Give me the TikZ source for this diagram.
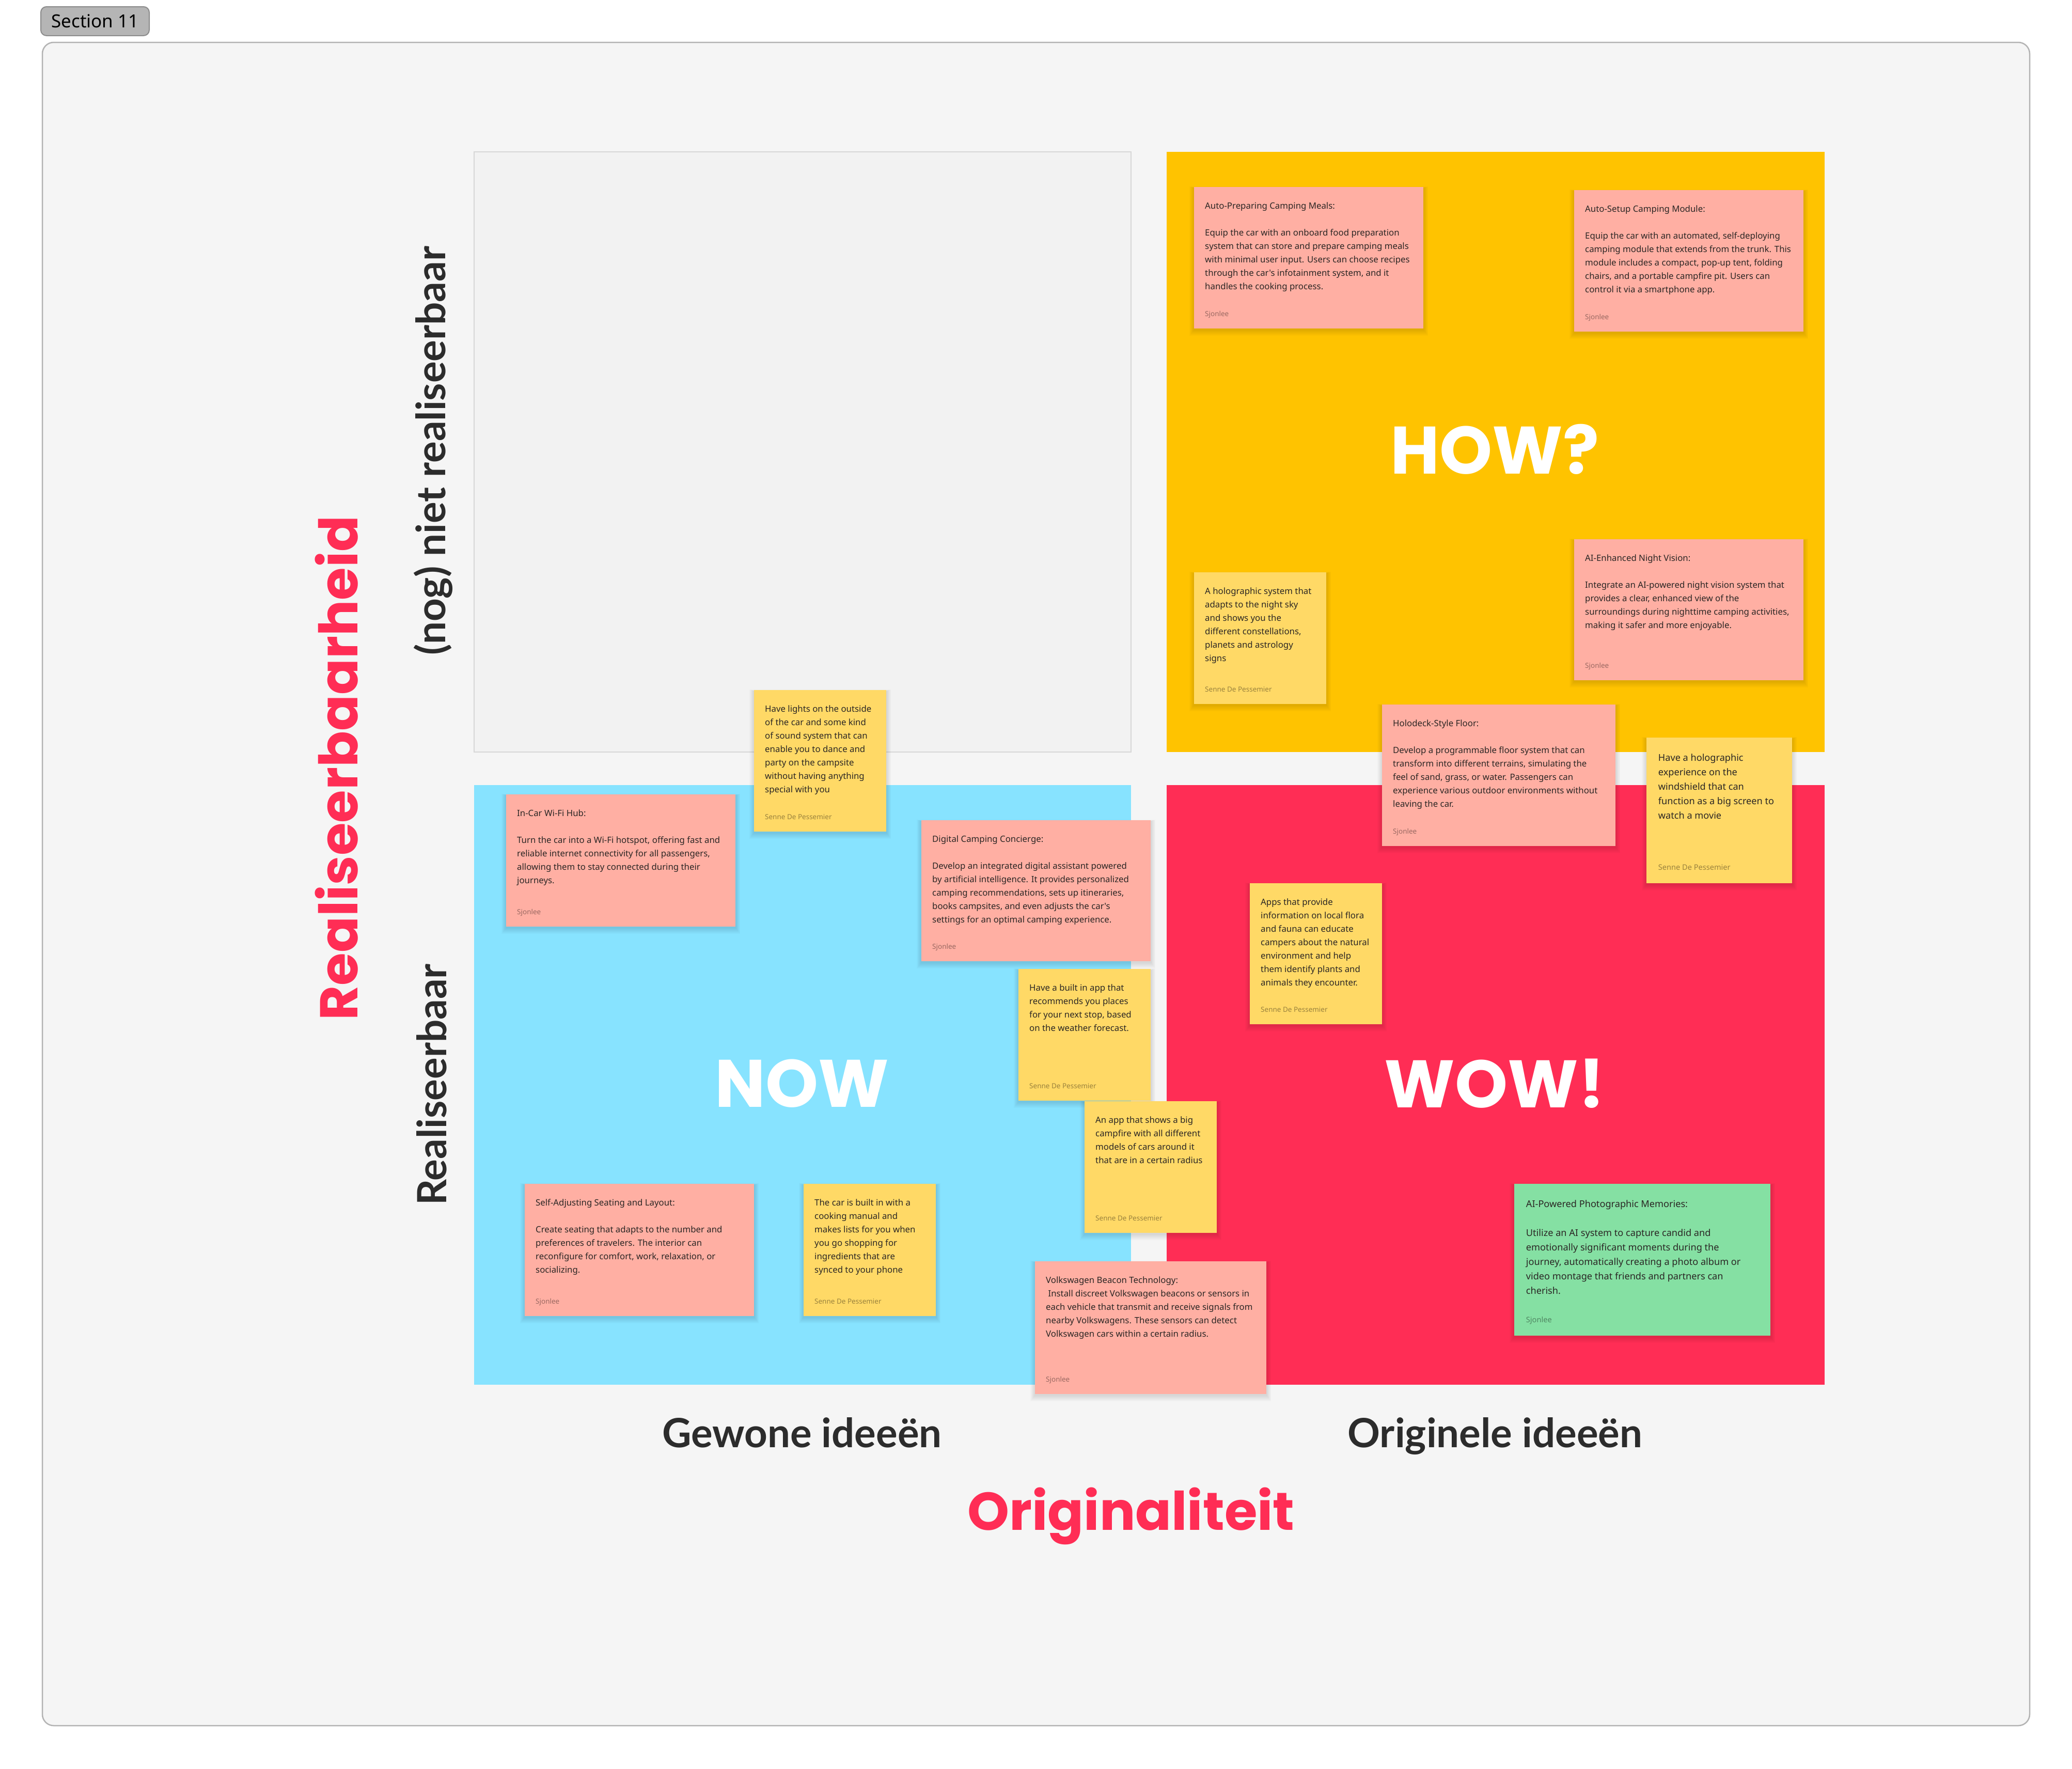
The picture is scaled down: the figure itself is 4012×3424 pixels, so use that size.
\documentclass[tikz,border=0pt]{standalone}
\usepackage{fontspec}
\setmainfont{Noto Sans}
\newfontfamily\popfont{Poppins}
\newfontfamily\axisfont{Lato}
\newfontfamily\notefont{Noto Sans}

\definecolor{sectionbg}{HTML}{F5F5F5}
\definecolor{sectionline}{HTML}{B3B3B3}
\definecolor{pillgray}{HTML}{B5B5B5}
\definecolor{pillline}{HTML}{8C8C8C}
\definecolor{quadgray}{HTML}{F2F2F2}
\definecolor{quadline}{HTML}{D6D6D6}
\definecolor{howyellow}{HTML}{FFC300}
\definecolor{wowred}{HTML}{FF2D55}
\definecolor{nowblue}{HTML}{87E3FF}
\definecolor{salmon}{HTML}{FFAFA3}
\definecolor{stickyyellow}{HTML}{FFD966}
\definecolor{stickygreen}{HTML}{85E0A3}
\definecolor{labeldark}{HTML}{2C2C2C}
\definecolor{accentred}{HTML}{FF2D55}
\definecolor{notetext}{HTML}{2A2624}

% sticky note: #1 name, #2 x, #3 y, #4 width, #5 height, #6 colour, #7 scale, #8 lines, #9 author
\newcommand\sticky[9]{%
  \pgfmathsetmacro\nfs{16.8*#7}%
  \pgfmathsetmacro\nbs{26*#7}%
  \pgfmathsetmacro\afs{13.5*#7}%
  \foreach \k in {1,...,6}{%
    \fill[black, opacity=0.018]
      (#2-\k*1.5, #3+2-\k*0.5) rectangle (#2+#4+\k*1.5, #3+#5+2+\k*2);
  }%
  \node[note, fill=#6, minimum width=#4pt, minimum height=#5pt] (#1) at (#2,#3) {};
  \node[notebody] (#1-text) at ([shift={(21*#7,42*#7)}]#1.north west)
    {\fontsize{\nfs pt}{\nbs pt}\selectfont\begin{tabular}[t]{@{}l@{}}#8\end{tabular}};
  \node[noteauthor] (#1-author) at ([shift={(21*#7,-24*#7)}]#1.south west)
    {\fontsize{\afs pt}{\afs pt}\selectfont #9};
}

\begin{document}
\begin{tikzpicture}[x=1pt,y=-1pt,
  quad/.style={anchor=north west, inner sep=0, outer sep=0},
  note/.style={anchor=north west, inner sep=0, outer sep=0, draw=none},
  notebody/.style={anchor=base west, inner sep=0, text=notetext, font=\notefont},
  noteauthor/.style={anchor=base west, inner sep=0, text=black, text opacity=0.4, font=\notefont},
  bigword/.style={text=white, font={\popfont\bfseries\fontsize{130}{130}\selectfont}, inner sep=0},
  axisword/.style={text=accentred, font={\popfont\bfseries\fontsize{103}{103}\selectfont}, inner sep=0, anchor=base},
  tickword/.style={text=labeldark, font={\axisfont\bfseries\fontsize{78}{78}\selectfont}, inner sep=0, anchor=base},
]
\useasboundingbox (0,0) rectangle (4012,3424);
\fill[white] (0,0) rectangle (4012,3424);

% section frame and its label
\draw[fill=sectionbg, draw=sectionline, line width=2.5pt, rounded corners=22pt]
  (82,82) rectangle (3930,3341);
\node[fill=pillgray, draw=pillline, line width=2pt, rounded corners=11pt,
      minimum width=210pt, minimum height=56pt, inner sep=0, text=black,
      font={\notefont\fontsize{35}{35}\selectfont}] (sectionLabel) at (184,41) {Section 11};

% the four quadrants
\node[quad, fill=quadgray, draw=quadline, line width=2pt, minimum width=1272pt, minimum height=1162pt] (qLater) at (918,294) {};
\node[quad, fill=howyellow, minimum width=1274pt, minimum height=1162pt] (qHow) at (2259,294) {};
\node[quad, fill=nowblue, minimum width=1272pt, minimum height=1161pt] (qNow) at (918,1520) {};
\node[quad, fill=wowred, minimum width=1274pt, minimum height=1161pt] (qWow) at (2259,1520) {};

\node[bigword] (howWord) at (2894,870) {HOW?};
\node[bigword] (nowWord) at (1553,2098) {NOW};
\node[bigword] (wowWord) at (2894,2098) {WOW!};

% axis captions
\node[tickword] (ordinary) at (1553,2802) {Gewone ideeën};
\node[tickword] (original) at (2895,2802) {Originele ideeën};
\node[axisword] (originality) at (2190,2962) {Originaliteit};
\node[axisword, rotate=90] (feasibility) at (692,1487) {Realiseerbaarheid};
\node[tickword, rotate=90] (notYet) at (862,873) {(nog) niet realiseerbaar};
\node[tickword, rotate=90] (feasible) at (864,2100) {Realiseerbaar};

% sticky notes
\sticky{autoMeals}{2312}{362}{444}{274}{salmon}{1}{Auto-Preparing Camping Meals:\\ \\
Equip the car with an onboard food preparation\\
system that can store and prepare camping meals\\
with minimal user input. Users can choose recipes\\
through the car's infotainment system, and it\\
handles the cooking process.}{Sjonlee}

\sticky{autoSetup}{3048}{368}{444}{274}{salmon}{1}{Auto-Setup Camping Module:\\ \\
Equip the car with an automated, self-deploying\\
camping module that extends from the trunk. This\\
module includes a compact, pop-up tent, folding\\
chairs, and a portable campfire pit. Users can\\
control it via a smartphone app.}{Sjonlee}

\sticky{holoSky}{2312}{1108}{256}{255}{stickyyellow}{1}{A holographic system that\\
adapts to the night sky\\
and shows you the\\
different constellations,\\
planets and astrology\\
signs}{Senne De Pessemier}

\sticky{nightVision}{3048}{1044}{444}{273}{salmon}{1}{AI-Enhanced Night Vision:\\ \\
Integrate an AI-powered night vision system that\\
provides a clear, enhanced view of the\\
surroundings during nighttime camping activities,\\
making it safer and more enjoyable.}{Sjonlee}

\sticky{partyLights}{1460}{1336}{256}{274}{stickyyellow}{1}{Have lights on the outside\\
of the car and some kind\\
of sound system that can\\
enable you to dance and\\
party on the campsite\\
without having anything\\
special with you}{Senne De Pessemier}

\sticky{holodeck}{2676}{1364}{452}{274}{salmon}{1}{Holodeck-Style Floor:\\ \\
Develop a programmable floor system that can\\
transform into different terrains, simulating the\\
feel of sand, grass, or water. Passengers can\\
experience various outdoor environments without\\
leaving the car.}{Sjonlee}

\sticky{holoWindshield}{3188}{1428}{282}{282}{stickyyellow}{1.08}{Have a holographic\\
experience on the\\
windshield that can\\
function as a big screen to\\
watch a movie}{Senne De Pessemier}

\sticky{wifiHub}{980}{1538}{444}{256}{salmon}{1}{In-Car Wi-Fi Hub:\\ \\
Turn the car into a Wi-Fi hotspot, offering fast and\\
reliable internet connectivity for all passengers,\\
allowing them to stay connected during their\\
journeys.}{Sjonlee}

\sticky{concierge}{1784}{1588}{444}{273}{salmon}{1}{Digital Camping Concierge:\\ \\
Develop an integrated digital assistant powered\\
by artificial intelligence. It provides personalized\\
camping recommendations, sets up itineraries,\\
books campsites, and even adjusts the car's\\
settings for an optimal camping experience.}{Sjonlee}

\sticky{weatherApp}{1972}{1876}{256}{255}{stickyyellow}{1}{Have a built in app that\\
recommends you places\\
for your next stop, based\\
on the weather forecast.}{Senne De Pessemier}

\sticky{floraFauna}{2420}{1710}{256}{273}{stickyyellow}{1}{Apps that provide\\
information on local flora\\
and fauna can educate\\
campers about the natural\\
environment and help\\
them identify plants and\\
animals they encounter.}{Senne De Pessemier}

\sticky{campfireApp}{2100}{2132}{256}{255}{stickyyellow}{1}{An app that shows a big\\
campfire with all different\\
models of cars around it\\
that are in a certain radius}{Senne De Pessemier}

\sticky{seating}{1016}{2292}{444}{256}{salmon}{1}{Self-Adjusting Seating and Layout:\\ \\
Create seating that adapts to the number and\\
preferences of travelers. The interior can\\
reconfigure for comfort, work, relaxation, or\\
socializing.}{Sjonlee}

\sticky{cookingManual}{1556}{2292}{256}{256}{stickyyellow}{1}{The car is built in with a\\
cooking manual and\\
makes lists for you when\\
you go shopping for\\
ingredients that are\\
synced to your phone}{Senne De Pessemier}

\sticky{beacon}{2004}{2442}{448}{257}{salmon}{1}{Volkswagen Beacon Technology:\\
\ Install discreet Volkswagen beacons or sensors in\\
each vehicle that transmit and receive signals from\\
nearby Volkswagens. These sensors can detect\\
Volkswagen cars within a certain radius.}{Sjonlee}

\sticky{photoMemories}{2932}{2292}{496}{294}{stickygreen}{1.08}{AI-Powered Photographic Memories:\\ \\
Utilize an AI system to capture candid and\\
emotionally significant moments during the\\
journey, automatically creating a photo album or\\
video montage that friends and partners can\\
cherish.}{Sjonlee}

\end{tikzpicture}
\end{document}
